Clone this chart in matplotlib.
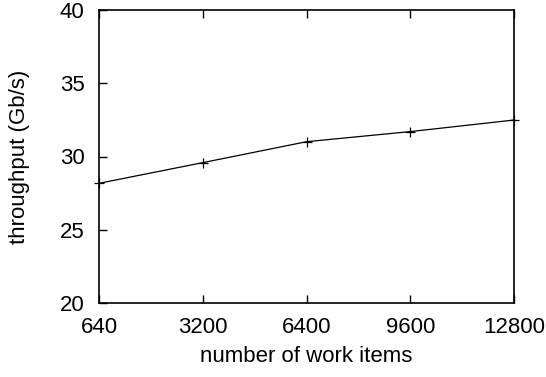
import matplotlib
matplotlib.use("Agg")
import matplotlib.pyplot as plt

plt.rcParams["font.family"] = ["Liberation Sans", "DejaVu Sans"]

work_items = ["640", "3200", "6400", "9600", "12800"]
throughput = [28.17, 29.58, 31.01, 31.70, 32.49]

fig = plt.figure(figsize=(5.46, 3.77), dpi=100)
ax = fig.add_axes([99 / 546, 1 - 303 / 377, 415 / 546, 293 / 377])

x = list(range(len(work_items)))
ax.plot(x, throughput, color="black", linewidth=0.9, marker="+",
        markersize=7, markeredgewidth=0.9, clip_on=False)

ax.set_xlim(0, len(work_items) - 1)
ax.set_ylim(20, 40)
ax.set_xticks(x)
ax.set_xticklabels(work_items)
ax.set_yticks([20, 25, 30, 35, 40])

ax.tick_params(axis="both", direction="in", length=6, width=1, labelsize=16)
ax.tick_params(axis="x", top=True, pad=10)
ax.tick_params(axis="y", right=False, pad=10.5)
for s in ax.spines.values():
    s.set_linewidth(1.2)

ax.set_xlabel("number of work items", fontsize=16, labelpad=6)
ax.set_ylabel("throughput (Gb/s)", fontsize=16, labelpad=21)

fig.savefig("out.png", dpi=100)
plt.close(fig)
